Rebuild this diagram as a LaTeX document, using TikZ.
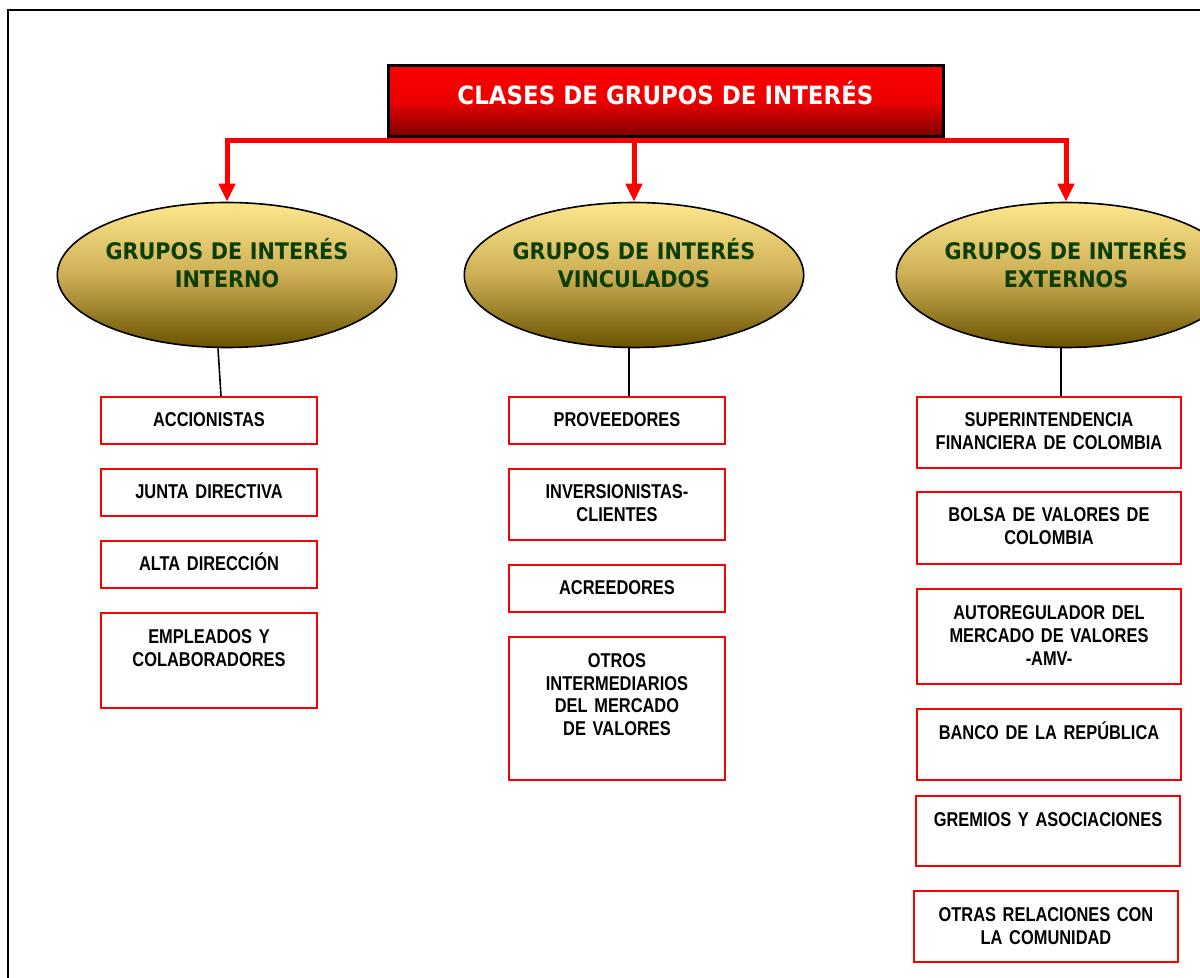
\documentclass[tikz,border=0pt]{standalone}
\usepackage{fontspec}
\usetikzlibrary{shapes.geometric,arrows.meta}
\newfontfamily\gtitfont{DejaVu Sans}[FakeStretch=0.91]
\newfontfamily\gcajafont{Liberation Sans}[FakeStretch=0.82,WordSpace=0.8]
\definecolor{girojo}{HTML}{FF0000}
\definecolor{giguinda}{HTML}{7A0000}
\definecolor{gioroA}{HTML}{FDE78C}
\definecolor{gioroB}{HTML}{CDAE55}
\definecolor{gioroC}{HTML}{6A5200}
\definecolor{giverde}{HTML}{0B3F02}
\tikzset{
  titulo/.style={draw=black, line width=1.5pt, top color=girojo, bottom color=giguinda,
    middle color=girojo!85!giguinda, minimum width=277.5pt, minimum height=35.5pt,
    inner sep=0pt, text height=9pt, text depth=5.5pt, text=white,
    font=\gtitfont\bfseries\fontsize{12.6}{14}\selectfont},
  grupo/.style={ellipse, draw=black, line width=0.8pt, top color=gioroA, bottom color=gioroC,
    middle color=gioroB, minimum width=169pt, minimum height=72.5pt, inner ysep=0pt,
    inner xsep=-4pt, text width=128pt, align=center, text height=8pt, text depth=23pt,
    text=giverde, font=\gtitfont\bfseries\fontsize{11.4}{14}\selectfont},
  % boxes: text sits at the top, #1 is the depth below the first baseline
  caja/.style={draw=girojo, line width=1pt, anchor=north, inner sep=0pt, text width=108pt,
    align=center, text height=15pt, text depth=#1,
    font=\gcajafont\bfseries\fontsize{10}{11.5}\selectfont},
  cajaext/.style={caja=#1, text width=132pt},
  flecha/.style={draw=girojo, line width=2.5pt, -{Triangle[width=8pt,length=9pt]}},
  enlace/.style={draw=black, line width=0.8pt},
}
\begin{document}
\begin{tikzpicture}[x=0.5pt,y=-0.5pt]
    \useasboundingbox (0,0) rectangle (1200,978);
    \clip (0,0) rectangle (1200,978);
    \draw[line width=1.2pt] (8,10) rectangle (1230,1000);

    \draw (665.5,101.5) node[titulo] (titulo) {CLASES DE GRUPOS DE INTERÉS};
    \coordinate (reparto) at ([yshift=-1pt]titulo.south);

    \draw (227,275) node[grupo] (interno) {GRUPOS DE INTERÉS\\INTERNO};
    \draw (634,275) node[grupo] (vinculados) {GRUPOS DE INTERÉS\\VINCULADOS};
    \draw (1066,275) node[grupo] (externos) {GRUPOS DE INTERÉS\\EXTERNOS};

    \draw[flecha] (reparto) -| (interno.north);
    \draw[flecha] (reparto) -| (vinculados.north);
    \draw[flecha] (reparto) -| (externos.north);

    % interno
    \draw (209,396) node[caja=8.5pt] (acc) {ACCIONISTAS};
    \draw (209,468) node[caja=8.5pt] (junta) {JUNTA DIRECTIVA};
    \draw (209,540) node[caja=8.5pt] (alta) {ALTA DIRECCIÓN};
    \draw (209,612) node[caja=32.5pt] (empl) {EMPLEADOS Y\\COLABORADORES};

    % vinculados
    \draw (617,396) node[caja=8.5pt] (prov) {PROVEEDORES};
    \draw (617,468) node[caja=20.5pt] (inv) {INVERSIONISTAS-\\CLIENTES};
    \draw (617,564) node[caja=8.5pt] (acre) {ACREEDORES};
    \draw (617,636) node[caja=56.5pt] (otros) {OTROS\\INTERMEDIARIOS\\DEL MERCADO\\DE VALORES};

    % externos
    \draw (1049,396) node[cajaext=20.5pt] (super) {SUPERINTENDENCIA\\FINANCIERA DE COLOMBIA};
    \draw (1049,491) node[cajaext=21pt] (bolsa) {BOLSA DE VALORES DE\\COLOMBIA};
    \draw (1049,588) node[cajaext=32.5pt] (amv) {AUTOREGULADOR DEL\\MERCADO DE VALORES\\-AMV-};
    \draw (1049,708) node[cajaext=20.5pt] (banco) {BANCO DE LA REPÚBLICA};
    \draw (1048,795) node[cajaext=20pt] (gremios) {GREMIOS Y ASOCIACIONES};
    \draw (1046,890) node[cajaext=20.5pt] (comunidad) {OTRAS RELACIONES CON\\LA COMUNIDAD};

    \draw[enlace] ([xshift=-4.5pt]interno.south) -- ([xshift=6pt]acc.north);
    \draw[enlace] ([xshift=-2.5pt]vinculados.south) -- ([xshift=6pt]prov.north);
    \draw[enlace] ([xshift=-2.5pt]externos.south) -- ([xshift=6pt]super.north);
\end{tikzpicture}
\end{document}
